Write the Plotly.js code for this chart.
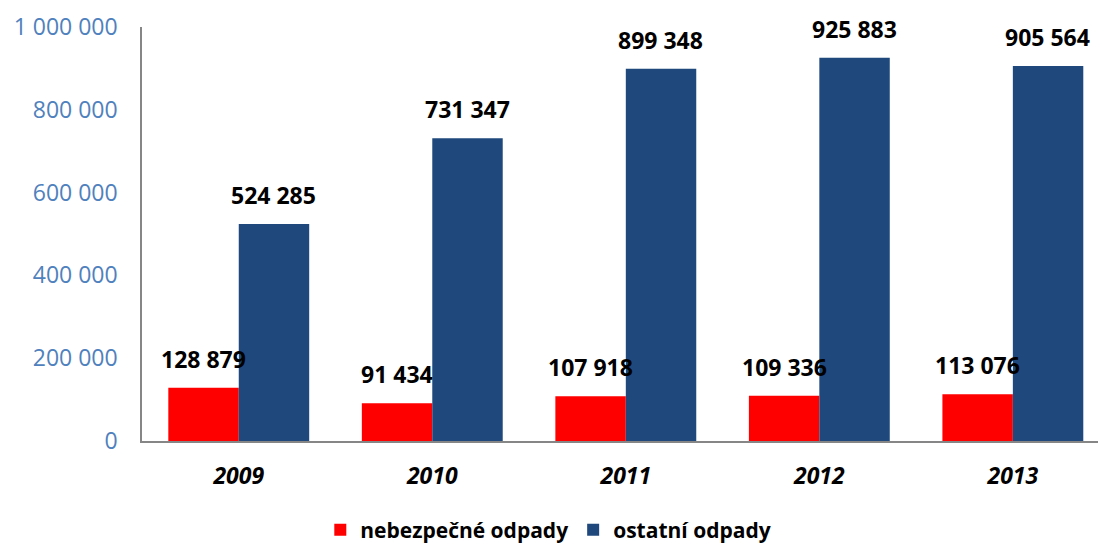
<!DOCTYPE html>
<html>
<head>
<meta charset="utf-8">
<script src="https://cdn.plot.ly/plotly-3.0.1.min.js"></script>
<style>html,body{margin:0;padding:0;background:#fff;}#chart{width:1098px;height:544px;}</style>
</head>
<body>
<div id="chart"></div>
<script>
const years = ['2009', '2010', '2011', '2012', '2013'];
const hazardous = [128879, 91434, 107918, 109336, 113076];
const other = [524285, 731347, 899348, 925883, 905564];
const seriesNames = ['nebezpečné odpady', 'ostatní odpady'];
const yTicks = [0, 200000, 400000, 600000, 800000, 1000000];

const fmt = v => String(v).replace(/\B(?=(\d{3})+(?!\d))/g, ' ');

const traces = [
  {type: 'bar', name: seriesNames[0], x: years, y: hazardous, marker: {color: '#FF0000'}, hoverinfo: 'none'},
  {type: 'bar', name: seriesNames[1], x: years, y: other, marker: {color: '#1F497D'}, hoverinfo: 'none'}
];

const annFont = {family: 'Open Sans, sans-serif', size: 23, color: '#000000'};
const annotations = [];
for (let i = 0; i < years.length; i++) {
  annotations.push({x: i, y: hazardous[i], xref: 'x', yref: 'y', text: '<b>' + fmt(hazardous[i]) + '</b>', showarrow: false, xshift: -35, yshift: 11, xanchor: 'center', yanchor: 'bottom', font: annFont});
  annotations.push({x: i, y: other[i], xref: 'x', yref: 'y', text: '<b>' + fmt(other[i]) + '</b>', showarrow: false, xshift: 35, yshift: 11, xanchor: 'center', yanchor: 'bottom', font: annFont});
}

const layout = {
  width: 1098, height: 544,
  margin: {l: 142, r: 0, t: 27, b: 103, autoexpand: false},
  paper_bgcolor: '#ffffff', plot_bgcolor: '#ffffff',
  barmode: 'group', bargap: 0.272, bargroupgap: 0,
  showlegend: true,
  legend: {orientation: 'h', x: 0.425, xanchor: 'center', y: -0.215, yanchor: 'middle',
    font: {family: 'Open Sans, sans-serif', size: 21, color: '#000000', weight: 'bold'}},
  xaxis: {type: 'category', range: [-0.5, 4.44], showline: true, linecolor: '#868686', linewidth: 1.5,
    ticks: '', showgrid: false, zeroline: false, ticklabelstandoff: 14,
    tickfont: {family: 'Open Sans, sans-serif', size: 23, color: '#000000', weight: 'bold', style: 'italic'}},
  yaxis: {range: [0, 1000000], tickvals: yTicks, ticktext: yTicks.map(fmt), showline: true, linecolor: '#868686', linewidth: 1.5,
    ticks: '', showgrid: false, zeroline: false, ticklabelstandoff: 18,
    tickfont: {family: 'Open Sans, sans-serif', size: 23, color: '#4F81BD'}},
  annotations: annotations
};

Plotly.newPlot('chart', traces, layout, {displayModeBar: false});
</script>
</body>
</html>
